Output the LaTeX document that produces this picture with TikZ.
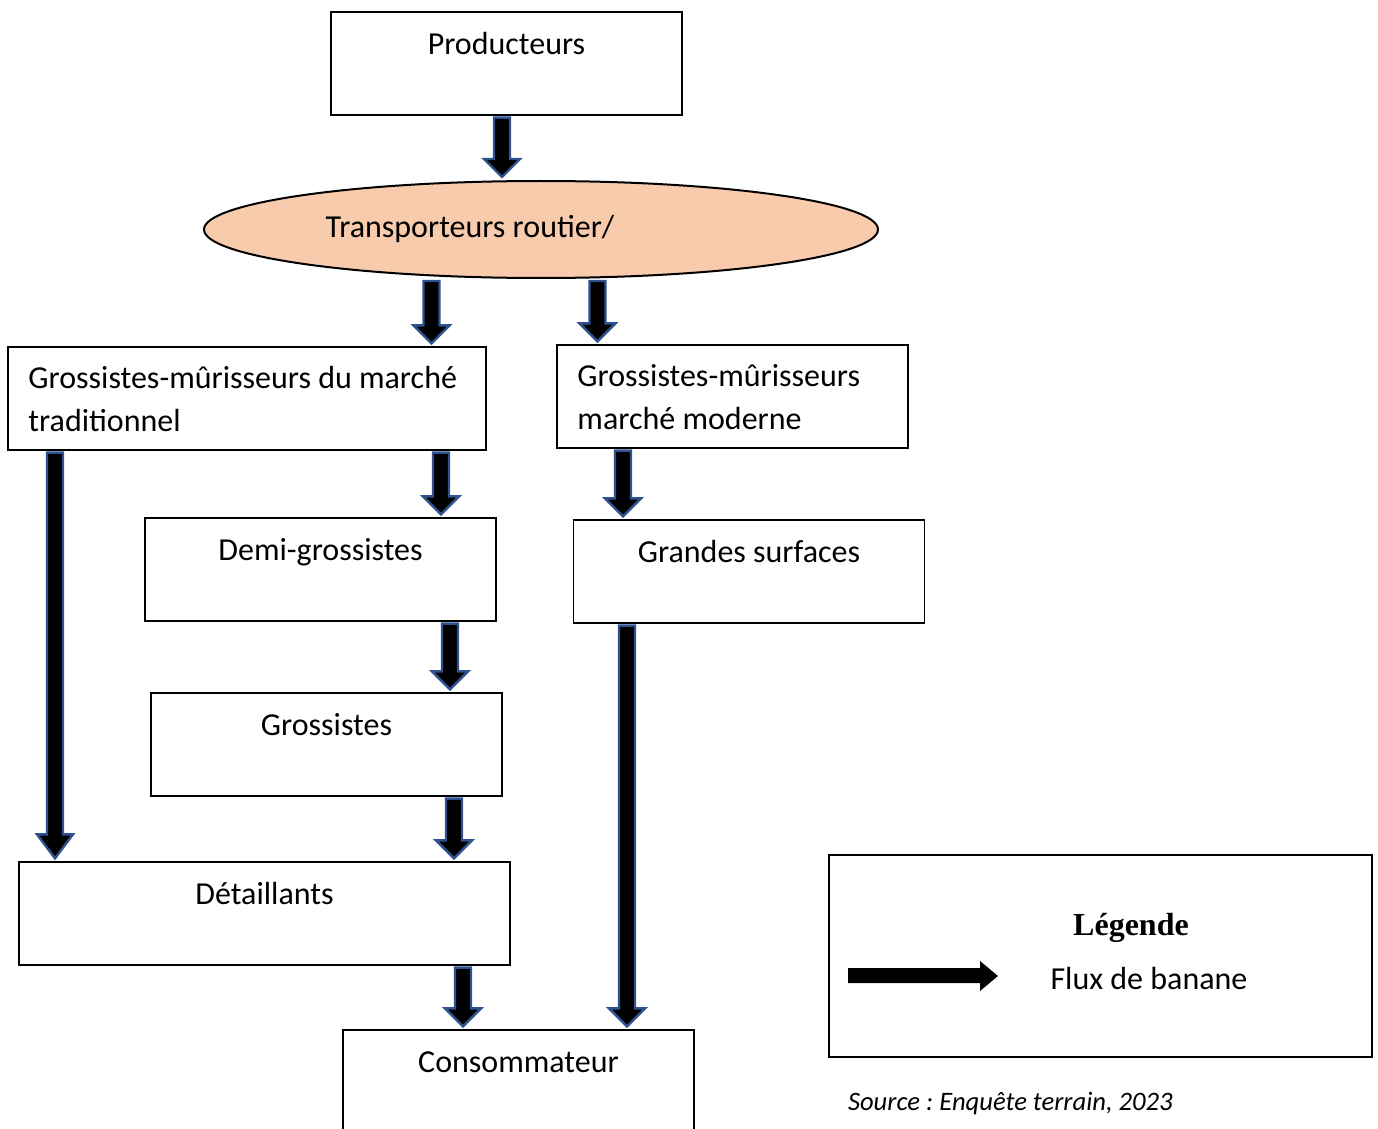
\documentclass[tikz,border=0pt]{standalone}
\usepackage{fontspec}
\setmainfont{Carlito}
\newfontfamily\legendefont{Liberation Serif}
\usetikzlibrary{shapes.geometric,calc}

\definecolor{peche}{RGB}{248,203,173}
\definecolor{contour}{RGB}{47,82,143}

\newcommand{\corps}{\fontsize{16}{21.25}\selectfont}

% fleche bloc : depart, arrivee (longueur de pointe en option)
\newcommand{\flux}[3][9pt]{%
  \filldraw[fleche] let \p1=(#2), \p2=(#3) in
    (\x1-4pt,\y1-1pt) -- (\x1+4pt,\y1-1pt) -- (\x1+4pt,\y2+1.5pt+#1) -- (\x1+9pt,\y2+1.5pt+#1)
    -- (\x1,\y2+1.5pt) -- (\x1-9pt,\y2+1.5pt+#1) -- (\x1-4pt,\y2+1.5pt+#1) -- cycle;}

\begin{document}
\begin{tikzpicture}[x = 0.5pt, y = -0.5pt,
                    boite/.style = {draw, line width = 0.6pt, minimum width = 175.5pt, minimum height = 51.5pt, inner sep = 0pt},
                    haut/.style = {label = {[anchor = base, yshift = -21.5pt, font = \corps]north:#1}},
                    gauche/.style = {label = {[anchor = base west, align = left, xshift = 7pt, yshift = -42.5pt, font = \corps]north west:#1}},
                    fleche/.style = {fill = black, draw = contour, line width = 1.2pt, line join = miter}]
  \useasboundingbox (0, 0) rectangle (1378, 1129);

  \node [boite, haut = Producteurs] (prod) at (506.5, 63.5){};
  \node [ellipse, draw, fill = peche, line width = 1pt, minimum width = 337pt, minimum height = 48.5pt, inner sep = 0pt] (trans) at (541, 229.5){};
  \node [font = \corps] (transtxt) at (470, 229){Transporteurs routier/};

  \node [boite, minimum width = 239pt, gauche = {Grossistes-mûrisseurs du marché\\traditionnel}] (trad) at (247, 398.5){};
  \node [boite, gauche = {Grossistes-mûrisseurs\\marché moderne}] (moderne) at (732.5, 396.5){};
  \node [boite, haut = Demi-grossistes] (demi) at (320.5, 569.5){};
  \node [boite, haut = Grandes surfaces] (grandes) at (749, 571.5){};
  \node [boite, haut = Grossistes] (gros) at (326.5, 744.5){};
  \node [boite, minimum width = 245.5pt, haut = Détaillants] (detail) at (264.5, 913.5){};
  \node [boite, haut = Consommateur] (conso) at (518.5, 1081.5){};

  \flux{prod.south -| 502,0}{trans.north -| 502,0}
  \flux{trans.south -| 431.5,0}{trad.north -| 431.5,0}
  \flux{trans.south -| 597.5,0}{moderne.north -| 597.5,0}
  \flux[12pt]{trad.south -| 55,0}{detail.north -| 55,0}
  \flux{trad.south -| 441,0}{demi.north -| 441,0}
  \flux{moderne.south -| 623,0}{grandes.north -| 623,0}
  \flux{demi.south -| 450,0}{gros.north -| 450,0}
  \flux{gros.south -| 454,0}{detail.north -| 454,0}
  \flux{detail.south -| 463,0}{conso.north -| 463,0}
  \flux{grandes.south -| 627,0}{conso.north -| 627,0}

  % legende
  \node [boite, minimum width = 271.5pt, minimum height = 101pt] (legende) at (1100.5, 956){};
  \node [anchor = base, font = \legendefont\bfseries\fontsize{16}{19}\selectfont] (legtitre) at (1131, 935){Légende};
  \fill (848, 968) -- (980, 968) -- (980, 961) -- (998, 976) -- (980, 991) -- (980, 983) -- (848, 983) -- cycle;
  \node [anchor = base, font = \corps] (legflux) at (1149, 989){Flux de banane};
  \node [anchor = base west, font = \itshape\frenchspacing\fontsize{13.3}{15}\selectfont] (source) at (841, 1110){Source : Enquête terrain, 2023};
\end{tikzpicture}
\end{document}
